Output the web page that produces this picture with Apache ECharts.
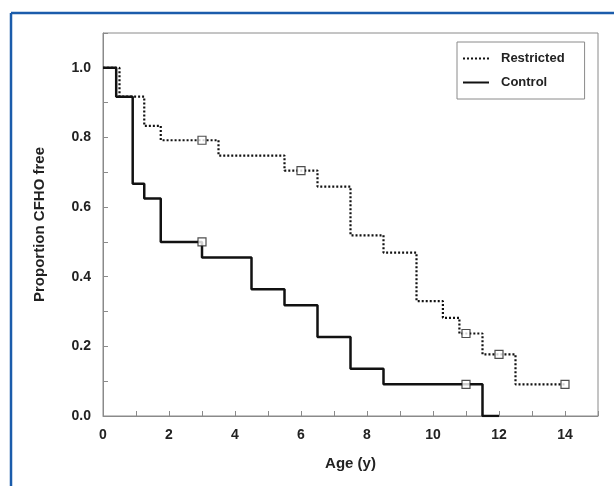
<!DOCTYPE html>
<html>
<head>
<meta charset="utf-8">
<script src="https://cdn.jsdelivr.net/npm/echarts@6/dist/echarts.min.js"></script>
<style>
html, body { margin: 0; padding: 0; background: #fff; }
#chart { width: 614px; height: 486px; }
</style>
</head>
<body>
<div id="chart"></div>
<script>
// Kaplan-Meier steps: time where the value starts, value after that time
var restrictedTimes = [0, 0.5, 1.25, 1.75, 3.5, 5.5, 6.5, 7.5, 8.5, 9.5, 10.3, 10.8, 11.5, 12.5, 14];
var restrictedSurv  = [1, 0.917, 0.833, 0.792, 0.748, 0.705, 0.659, 0.519, 0.469, 0.33, 0.282, 0.237, 0.177, 0.091, 0.091];
var controlTimes = [0, 0.4, 0.9, 1.25, 1.75, 3, 4.5, 5.5, 6.5, 7.5, 8.5, 11.5, 12];
var controlSurv  = [1, 0.917, 0.667, 0.625, 0.5, 0.455, 0.364, 0.318, 0.227, 0.136, 0.091, 0, 0];
// censored observations
var restrictedCensorT = [3, 6, 11, 12, 14];
var restrictedCensorS = [0.792, 0.705, 0.237, 0.177, 0.091];
var controlCensorT = [3, 11];
var controlCensorS = [0.5, 0.091];

function pairs(xs, ys) {
    var out = [];
    for (var i = 0; i < xs.length; i++) out.push([xs[i], ys[i]]);
    return out;
}

var font = 'Liberation Sans, Arial, sans-serif';
var myChart = echarts.init(document.getElementById('chart'));
var option = {
    backgroundColor: '#fff',
    animation: false,
    grid: {
        left: 103, right: 16, top: 33, bottom: 70,
        show: true, borderColor: '#8a8a8a', borderWidth: 1
    },
    legend: {
        left: 457, top: 42,
        orient: 'vertical',
        padding: [10, 20, 10, 5],
        itemGap: 11,
        itemWidth: 26,
        itemHeight: 14,
        borderColor: '#8a8a8a',
        borderWidth: 1,
        itemStyle: { opacity: 0 },
        data: ['Restricted', 'Control'],
        textStyle: { fontFamily: font, fontWeight: 'bold', fontSize: 13, color: '#222', padding: [0, 0, 0, 7] }
    },
    xAxis: {
        type: 'value',
        min: 0, max: 15, interval: 1,
        name: 'Age (y)',
        nameLocation: 'middle',
        nameGap: 40,
        nameTextStyle: { fontFamily: font, fontWeight: 'bold', fontSize: 15, color: '#222' },
        axisLine: { lineStyle: { color: '#8a8a8a', width: 1 } },
        axisTick: { inside: true, length: 5, lineStyle: { color: '#8a8a8a' } },
        axisLabel: {
            margin: 12,
            fontFamily: font, fontWeight: 'bold', fontSize: 14, color: '#222',
            formatter: function (v) { return (v % 2 === 0 && v <= 14) ? String(v) : ''; }
        },
        splitLine: { show: false }
    },
    yAxis: {
        type: 'value',
        min: 0, max: 1.1, interval: 0.1,
        name: 'Proportion CFHO free',
        nameLocation: 'middle',
        nameGap: 56,
        nameTextStyle: { fontFamily: font, fontWeight: 'bold', fontSize: 15, color: '#222' },
        axisLine: { show: true, lineStyle: { color: '#8a8a8a', width: 1 } },
        axisTick: { show: true, inside: true, length: 5, lineStyle: { color: '#8a8a8a' } },
        axisLabel: {
            margin: 12,
            fontFamily: font, fontWeight: 'bold', fontSize: 14, color: '#222',
            formatter: function (v) {
                var k = Math.round(v * 10);
                return (k % 2 === 0 && k <= 10) ? (k / 10).toFixed(1) : '';
            }
        },
        splitLine: { show: false }
    },
    series: [
        {
            name: 'Restricted',
            type: 'line',
            step: 'end',
            symbol: 'none',
            data: pairs(restrictedTimes, restrictedSurv),
            lineStyle: { color: '#111', width: 2.2, type: [2, 2] },
            itemStyle: { color: '#111' },
            z: 3
        },
        {
            name: 'Control',
            type: 'line',
            step: 'end',
            symbol: 'none',
            data: pairs(controlTimes, controlSurv),
            lineStyle: { color: '#111', width: 2.5 },
            itemStyle: { color: '#111' },
            z: 3
        },
        {
            name: 'restricted censored',
            type: 'scatter',
            symbol: 'rect',
            symbolSize: 8,
            data: pairs(restrictedCensorT, restrictedCensorS),
            itemStyle: { color: '#fff', borderColor: '#222', borderWidth: 1.2 },
            z: 4
        },
        {
            name: 'control censored',
            type: 'scatter',
            symbol: 'rect',
            symbolSize: 8,
            data: pairs(controlCensorT, controlCensorS),
            itemStyle: { color: '#fff', borderColor: '#222', borderWidth: 1.2 },
            z: 4
        }
    ],
    graphic: [
        { type: 'line', shape: { x1: 11, y1: 13, x2: 614, y2: 13 }, style: { stroke: '#1b5cab', lineWidth: 2.5 } },
        { type: 'line', shape: { x1: 11, y1: 13, x2: 11, y2: 486 }, style: { stroke: '#1b5cab', lineWidth: 2.5 } }
    ]
};
myChart.setOption(option);
</script>
</body>
</html>
